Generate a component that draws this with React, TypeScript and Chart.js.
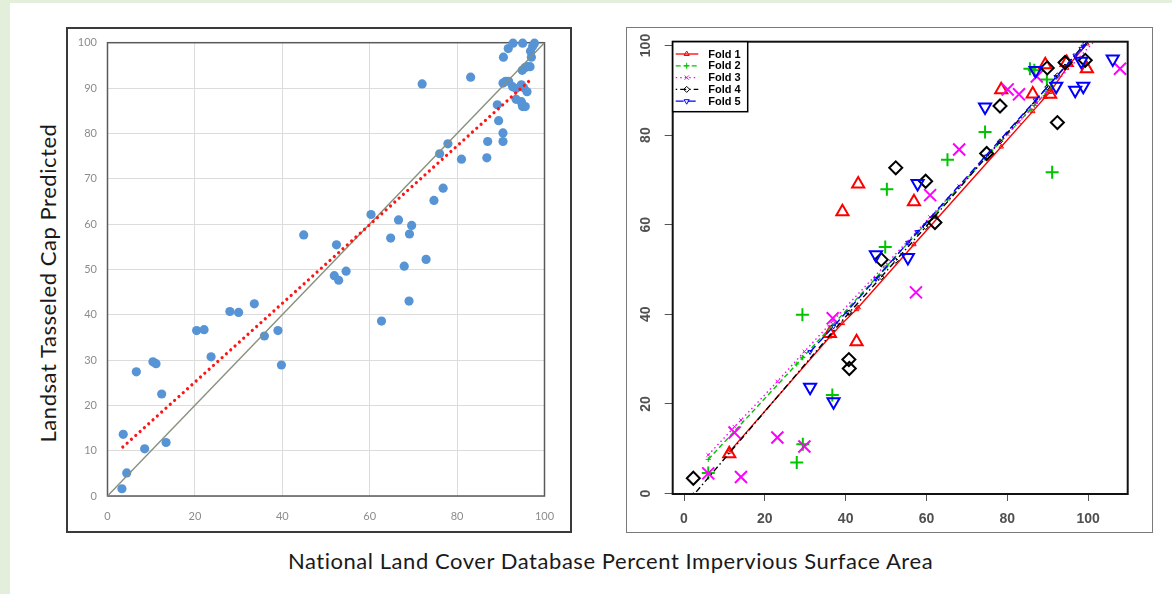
import React, { useEffect, useRef } from 'react';
import { Chart, registerables } from 'chart.js';
import { drawPoint } from 'chart.js/helpers';

Chart.register(...registerables);

// ---------------- Left panel (Excel-style scatter) ----------------
const leftX = [
  3.3, 4.4, 3.6, 8.5, 6.6, 10.4, 11.1, 12.4, 13.4, 20.4, 22.1, 23.7, 28.0, 30.0, 33.6, 35.9, 39.0, 39.8,
  44.9, 51.9, 52.4, 52.9, 54.6, 60.3, 62.7, 64.8, 66.6, 67.9, 69.0, 69.1, 69.6, 72.0, 72.9, 74.7, 76.0,
  76.8, 77.9, 81.0, 83.1, 86.8, 87.0, 89.2, 89.5, 90.5, 90.5, 90.5, 91.1, 91.8, 90.6, 91.7, 92.8, 95.0,
  97.7, 96.8, 97.0, 94.9, 95.5, 96.1, 96.7, 92.7, 93.5, 94.7, 95.2, 96.0, 93.5, 94.7, 95.0, 95.6, 94.9, 97.3,
];
const leftY = [
  1.6, 5.1, 13.6, 10.4, 27.4, 29.6, 29.2, 22.5, 11.8, 36.5, 36.7, 30.7, 40.7, 40.5, 42.4, 35.3, 36.5, 28.9,
  57.6, 48.6, 55.4, 47.6, 49.6, 62.1, 38.6, 56.9, 60.9, 50.7, 43.0, 57.8, 59.7, 90.9, 52.2, 65.2, 75.5,
  67.9, 77.7, 74.3, 92.4, 74.6, 78.2, 86.3, 82.8, 80.1, 78.2, 91.1, 91.5, 91.5, 96.8, 98.7, 99.9, 99.9,
  99.9, 98.1, 96.8, 93.9, 94.5, 94.7, 94.7, 90.3, 89.9, 90.7, 90.1, 89.2, 87.5, 87.0, 85.9, 85.9, 86.3, 99.2,
];
const trendX = [3.5, 97.0];
const trendY = [10.8, 92.0];
const diagX = [0, 100];
const diagY = [0, 100];
const leftXTicks = [0, 20, 40, 60, 80, 100];
const leftYTicks = [0, 10, 20, 30, 40, 50, 60, 70, 80, 90, 100];

// ---------------- Right panel (R-style cross-validation folds) ----------------
const foldNames = ['Fold 1', 'Fold 2', 'Fold 3', 'Fold 4', 'Fold 5'];

const fold1X = [11.2, 36.1, 39.2, 42.7, 43.1, 56.9, 78.5, 86.3, 89.4, 90.6, 94.7, 99.7];
const fold1Obs = [8.9, 35.7, 62.9, 33.9, 69.1, 65.1, 90.1, 89.2, 95.7, 89.1, 96.2, 94.8];
const fold1Fit = [9.3, 35.0, 38.0, 41.1, 41.5, 55.6, 77.4, 85.3, 88.5, 89.6, 95.0, 100.4];

const fold2X = [6.0, 27.9, 29.3, 29.4, 36.7, 49.8, 50.2, 65.2, 74.5, 85.6, 86.7, 89.8, 91.1];
const fold2Obs = [4.6, 6.9, 39.9, 11.0, 22.0, 55.0, 67.9, 74.5, 80.7, 94.8, 94.5, 92.4, 71.7];
const fold2Fit = [7.6, 28.9, 30.3, 30.4, 37.5, 50.4, 50.8, 65.5, 74.8, 85.6, 86.6, 89.7, 91.0];

const fold3X = [6.0, 12.5, 14.1, 23.1, 29.8, 36.8, 57.4, 60.9, 68.1, 80.1, 82.9, 87.3, 107.9];
const fold3Obs = [4.5, 13.6, 3.7, 12.5, 10.5, 39.1, 44.9, 66.6, 76.8, 90.2, 89.1, 93.1, 94.8];
const fold3Fit = [8.6, 14.9, 16.4, 25.0, 31.7, 38.5, 58.3, 61.7, 68.6, 80.2, 82.9, 87.2, 107.1];

const fold4X = [2.3, 40.8, 40.9, 48.8, 52.4, 59.8, 62.1, 74.9, 78.2, 89.9, 92.4, 94.3, 99.3];
const fold4Obs = [3.4, 29.9, 27.9, 52.2, 72.7, 69.7, 60.5, 75.9, 86.5, 95.0, 82.8, 96.2, 96.7];
const fold4Fit = [-0.4, 40.3, 40.4, 48.3, 52.0, 59.5, 61.9, 75.2, 78.6, 90.7, 93.3, 95.3, 100.5];

const fold5X = [31.2, 37.0, 47.5, 55.4, 57.8, 74.5, 87.0, 92.1, 96.8, 98.3, 98.8, 106.1];
const fold5Obs = [23.7, 20.5, 53.3, 52.7, 69.2, 86.3, 94.4, 90.9, 90.0, 96.5, 90.9, 97.0];
const fold5Fit = [31.6, 37.3, 47.9, 56.0, 58.4, 75.2, 87.8, 93.0, 97.8, 99.3, 99.8, 107.2];

const rightXTicks = [0, 20, 40, 60, 80, 100];
const rightYTicks = [0, 20, 40, 60, 80, 100];

const xTitle = 'National Land Cover Database Percent Impervious Surface Area';
const yTitle = 'Landsat Tasseled Cap Predicted';

// ---------------- styles ----------------
const foldStyles = [
  { color: '#ff0000', style: 'triangle', rot: 0, big: 7, dash: [] as number[] },
  { color: '#00c400', style: 'cross', rot: 0, big: 6.5, dash: [5, 3] },
  { color: '#ff00ff', style: 'crossRot', rot: 0, big: 8.5, dash: [1.5, 3] },
  { color: '#000000', style: 'rectRot', rot: 0, big: 6.5, dash: [1.5, 3, 6, 3] },
  { color: '#0000ff', style: 'triangle', rot: 180, big: 7, dash: [8, 4] },
];
const foldData = [
  [fold1X, fold1Obs, fold1Fit],
  [fold2X, fold2Obs, fold2Fit],
  [fold3X, fold3Obs, fold3Fit],
  [fold4X, fold4Obs, fold4Fit],
  [fold5X, fold5Obs, fold5Fit],
];

const zip = (xs: number[], ys: number[]) => xs.map((x, i) => ({ x, y: ys[i] }));

const leftFrame = {
  id: 'leftFrame',
  beforeDatasetsDraw(chart: any) {
    const { ctx, chartArea: a } = chart;
    ctx.save();
    ctx.strokeStyle = '#5a5a5a';
    ctx.lineWidth = 1.5;
    ctx.strokeRect(a.left, a.top, a.right - a.left, a.bottom - a.top);
    ctx.restore();
  },
};

const rDecor = {
  id: 'rDecor',
  afterDraw(chart: any) {
    const { ctx, chartArea: a, scales } = chart;
    ctx.save();
    // plot box
    ctx.strokeStyle = '#111';
    ctx.lineWidth = 2;
    ctx.strokeRect(a.left, a.top, a.right - a.left, a.bottom - a.top);
    // rotated y tick labels
    ctx.fillStyle = '#505050';
    ctx.font = 'bold 14px "Liberation Sans", Arial, sans-serif';
    ctx.textAlign = 'center';
    ctx.textBaseline = 'middle';
    for (const v of rightYTicks) {
      const y = scales.y.getPixelForValue(v);
      ctx.save();
      ctx.translate(a.left - 26.7, y);
      ctx.rotate(-Math.PI / 2);
      ctx.fillText(String(v), 0, 0);
      ctx.restore();
    }
    // legend
    const bx = a.left, by = a.top, bw = 75, bh = 70;
    ctx.fillStyle = '#fff';
    ctx.fillRect(bx, by, bw, bh);
    ctx.strokeStyle = '#000';
    ctx.lineWidth = 1.5;
    ctx.strokeRect(bx, by, bw, bh);
    foldNames.forEach((name, i) => {
      const s = foldStyles[i];
      const y = by + 12.3 + i * 11.8;
      ctx.strokeStyle = s.color;
      ctx.lineWidth = 1.3;
      ctx.setLineDash(s.dash);
      ctx.beginPath();
      ctx.moveTo(bx + 3, y);
      ctx.lineTo(bx + 25.6, y);
      ctx.stroke();
      ctx.setLineDash([]);
      ctx.fillStyle = 'rgba(0,0,0,0)';
      ctx.lineWidth = 1;
      drawPoint(ctx, { pointStyle: s.style, rotation: s.rot, radius: 3, borderWidth: 1 } as any, bx + 14, y);
      ctx.fillStyle = '#000';
      ctx.font = 'bold 11px "Liberation Sans", Arial, sans-serif';
      ctx.textAlign = 'left';
      ctx.textBaseline = 'middle';
      ctx.fillText(name, bx + 35.6, y + 0.5);
    });
    ctx.restore();
  },
};

function leftConfig(): any {
  const tickFont = { family: 'Lato', size: 11 };
  return {
    type: 'scatter',
    data: {
      datasets: [
        {
          label: 'Observed',
          data: zip(leftX, leftY),
          pointRadius: 4.6,
          pointBackgroundColor: '#5694d6',
          pointBorderWidth: 0,
          clip: false,
          order: 3,
        },
        {
          label: 'Trend',
          data: zip(trendX, trendY),
          showLine: true,
          pointRadius: 0,
          borderColor: '#ff1414',
          borderWidth: 3.2,
          borderDash: [0.01, 5.8],
          borderCapStyle: 'round',
          order: 1,
        },
        {
          label: '1:1',
          data: zip(diagX, diagY),
          showLine: true,
          pointRadius: 0,
          borderColor: '#86917f',
          borderWidth: 1.4,
          order: 2,
        },
      ],
    },
    options: {
      responsive: false,
      animation: false,
      devicePixelRatio: 1,
      events: [],
      layout: { padding: { left: 0, top: 15.7, right: 27.5, bottom: 0 } },
      plugins: { legend: { display: false }, tooltip: { enabled: false } },
      scales: {
        x: {
          type: 'linear',
          min: 0,
          max: 100,
          afterBuildTicks: (s: any) => { s.ticks = leftXTicks.map((v) => ({ value: v })); },
          afterFit: (s: any) => { s.height = 37; s.paddingLeft = 0; s.paddingRight = 0; },
          ticks: { color: '#8c8c8c', font: tickFont, padding: 14 },
          grid: { color: '#dcdcdc', lineWidth: 1, drawTicks: false },
          border: { display: false },
        },
        y: {
          type: 'linear',
          min: 0,
          max: 100,
          afterBuildTicks: (s: any) => { s.ticks = leftYTicks.map((v) => ({ value: v })); },
          afterFit: (s: any) => { s.width = 41.5; s.paddingTop = 0; s.paddingBottom = 0; },
          ticks: { color: '#8c8c8c', font: tickFont, padding: 10.5 },
          grid: { color: '#dcdcdc', lineWidth: 1, drawTicks: false },
          border: { display: false },
        },
      },
    },
    plugins: [leftFrame],
  };
}

function rightConfig(): any {
  const datasets: any[] = [];
  foldNames.forEach((name, i) => {
    const s = foldStyles[i];
    const [xs, obs, fit] = foldData[i];
    datasets.push({
      label: name + ' fit',
      data: zip(xs, fit),
      showLine: true,
      borderColor: s.color,
      borderWidth: 1.4,
      borderDash: s.dash,
      pointStyle: s.style,
      pointRotation: s.rot,
      pointRadius: 2.6,
      pointBorderWidth: 1,
      pointBorderColor: s.color,
      pointBackgroundColor: 'rgba(0,0,0,0)',
      order: 10 - i,
    });
    datasets.push({
      label: name,
      data: zip(xs, obs),
      showLine: false,
      pointStyle: s.style,
      pointRotation: s.rot,
      pointRadius: s.big,
      pointBorderWidth: 2,
      pointBorderColor: s.color,
      pointBackgroundColor: 'rgba(0,0,0,0)',
      order: 10 - i,
    });
  });
  return {
    type: 'scatter',
    data: { datasets },
    options: {
      responsive: false,
      animation: false,
      devicePixelRatio: 1,
      events: [],
      layout: { padding: { left: 0, top: 14.7, right: 25.3, bottom: 0 } },
      plugins: { legend: { display: false }, tooltip: { enabled: false } },
      scales: {
        x: {
          type: 'linear',
          min: -2.8,
          max: 109.8,
          afterBuildTicks: (s: any) => { s.ticks = rightXTicks.map((v) => ({ value: v })); },
          afterFit: (s: any) => { s.height = 39; s.paddingLeft = 0; s.paddingRight = 0; },
          ticks: {
            color: '#505050',
            font: { family: '"Liberation Sans", Arial, sans-serif', size: 14, weight: 'bold' },
            padding: 10,
          },
          grid: { drawOnChartArea: false, drawTicks: true, tickLength: 7, color: '#555', lineWidth: 1 },
          border: { display: false },
        },
        y: {
          type: 'linear',
          min: -0.11,
          max: 100.85,
          afterBuildTicks: (s: any) => { s.ticks = rightYTicks.map((v) => ({ value: v })); },
          afterFit: (s: any) => { s.width = 46.7; s.paddingTop = 0; s.paddingBottom = 0; },
          ticks: { display: false },
          grid: { drawOnChartArea: false, drawTicks: true, tickLength: 8, color: '#555', lineWidth: 1 },
          border: { display: false },
        },
      },
    },
    plugins: [rDecor],
  };
}

export default function App() {
  const leftRef = useRef<HTMLCanvasElement>(null);
  const rightRef = useRef<HTMLCanvasElement>(null);

  useEffect(() => {
    const lc = new Chart(leftRef.current as HTMLCanvasElement, leftConfig());
    const rc = new Chart(rightRef.current as HTMLCanvasElement, rightConfig());
    return () => {
      lc.destroy();
      rc.destroy();
    };
  }, []);

  const titleFont = 'Lato, "Open Sans", sans-serif';

  return (
    <div
      style={{
        position: 'absolute',
        left: 0,
        top: 0,
        width: 1172,
        height: 594,
        background: '#e3eedb',
        overflow: 'hidden',
      }}
    >
      <div style={{ position: 'absolute', left: 10, top: 3, width: 1162, height: 591, background: '#ffffff' }} />
      <div
        style={{
          position: 'absolute',
          left: 66,
          top: 27,
          width: 506,
          height: 506,
          border: '2px solid #3a3a3a',
          boxSizing: 'border-box',
        }}
      />
      <div
        style={{
          position: 'absolute',
          left: 626,
          top: 27,
          width: 527,
          height: 506,
          border: '1.5px solid #7a7a7a',
          boxSizing: 'border-box',
        }}
      />
      <canvas ref={leftRef} width={506} height={506} style={{ position: 'absolute', left: 66, top: 27 }} />
      <canvas ref={rightRef} width={527} height={506} style={{ position: 'absolute', left: 626, top: 27 }} />
      <div
        style={{
          position: 'absolute',
          left: 48,
          top: 283,
          transform: 'translate(-50%, -50%) rotate(-90deg)',
          whiteSpace: 'nowrap',
          fontFamily: titleFont,
          fontSize: 22,
          letterSpacing: 0.55,
          color: '#1a1a1a',
          lineHeight: 1,
        }}
      >
        {yTitle}
      </div>
      <div
        style={{
          position: 'absolute',
          left: 610.5,
          top: 561,
          transform: 'translate(-50%, -50%)',
          whiteSpace: 'nowrap',
          fontFamily: titleFont,
          fontSize: 22,
          letterSpacing: 0.55,
          color: '#1a1a1a',
          lineHeight: 1,
        }}
      >
        {xTitle}
      </div>
    </div>
  );
}
